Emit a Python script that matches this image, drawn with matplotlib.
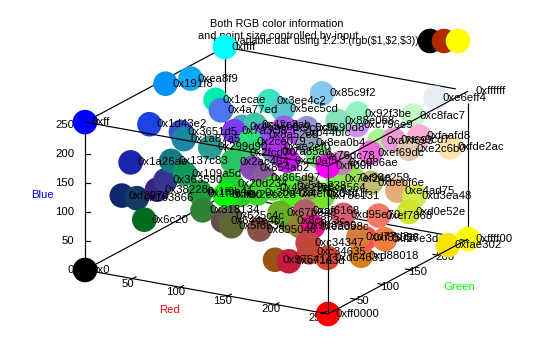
import matplotlib
matplotlib.use("Agg")
import matplotlib.pyplot as plt

plt.rcParams['font.family'] = ['Liberation Sans', 'DejaVu Sans']

# data: every point is its own colour, r,g,b are the bytes of the number
point_hex = [
    0x1a26ae, 0x0f2970, 0x163866, 0x006c20, 0x38228a, 0x363590, 0x137c83, 0x109a5d,
    0x0ea8f9, 0x0191f8, 0x01ecae, 0x4a77ed, 0x1d43e2, 0x3651d5, 0x1a87a5, 0x299d90,
    0x3ee4c2, 0x5ec5cd, 0x85c9f2, 0x46a5b8, 0x42c3ab, 0x7a3cf5, 0x8a52e8, 0x9c5cf5,
    0xb44bfc, 0x9690d8, 0x2ce079, 0x2fcd70, 0x7a85ad, 0x8ea0b4, 0xcf0af5, 0xae2ef0,
    0x2ac464, 0x854ab2, 0x865d97, 0x76dc78, 0x1f9b41, 0x1f9c3e, 0x20d234, 0x2ecc28,
    0x3bd42a, 0x43e22e, 0x54e238, 0x4ef020, 0x64ff1f, 0x78e131, 0x8ca564, 0x7ef248,
    0x96e259, 0x318134, 0x644e4b, 0x625c4c, 0x5f6634, 0x895046, 0x8c823c, 0x67b028,
    0xaf6168, 0xd95e70, 0x968336, 0xea098c, 0xc34347, 0xc34635, 0x975414, 0xc71a3d,
    0xd64631, 0xd88018, 0xf85058, 0xd77d3a, 0xf27e3d, 0xef7868, 0xbebf6e, 0xe4ad75,
    0xd3ea48, 0xd0e52e, 0xfae302, 0xe6eff4, 0xc8fac7, 0xc796e9, 0x92f3be, 0x88e0b8,
    0xa7f693, 0xea9cd7, 0xfaafd8, 0xe2c6b0, 0xfde2ac, 0xef69dc, 0xc086ae,
    0x00ff00, 0x000000, 0x0000ff, 0x00ffff, 0xff00ff, 0xff0000, 0xffff00, 0xffffff,
]
tick_values = [0, 50, 100, 150, 200, 250]
axis_max = 255
key_colors = ['#000000', '#b22a00', '#ffff00']

# where the gnuplot view puts the three axes, in pixels per unit
origin = (85, 270)
red_dir = (0.953, 0.1725)
green_dir = (0.549, -0.294)
blue_dir = (0.0, -0.58)
radius_px = 12.3
fs = 8.2


def project(r, g, b):
    x = origin[0] + r * red_dir[0] + g * green_dir[0] + b * blue_dir[0]
    y = origin[1] + r * red_dir[1] + g * green_dir[1] + b * blue_dir[1]
    return x, y


def edge(a, b, z):
    pa = project(*a)
    pb = project(*b)
    ax.plot([pa[0], pb[0]], [pa[1], pb[1]], color='black', lw=0.85, zorder=z,
            solid_capstyle='butt')


fig = plt.figure(figsize=(5.4, 3.6), dpi=100)
ax = fig.add_axes([0, 0, 1, 1])
ax.set_xlim(0, 540)
ax.set_ylim(360, 0)
ax.axis('off')

M = axis_max
# back edges go under the points
for a, b in [((0, 0, 0), (0, 0, M)), ((0, 0, 0), (0, M, 0)), ((0, M, 0), (0, M, M)),
             ((0, 0, M), (0, M, M)), ((0, M, M), (M, M, M)), ((0, M, 0), (M, M, 0)),
             ((M, M, 0), (M, M, M))]:
    edge(a, b, 1)
# front edges go over them
for a, b in [((0, 0, 0), (M, 0, 0)), ((M, 0, 0), (M, M, 0)), ((M, 0, 0), (M, 0, M)),
             ((0, 0, M), (M, 0, M)), ((M, 0, M), (M, M, M))]:
    edge(a, b, 4)

# ticks
for t in tick_values:
    x, y = project(0, 0, t)
    ax.plot([x, x + 5], [y, y], color='black', lw=0.85, zorder=1)
    ax.text(x - 11, y, str(t), ha='right', va='center', fontsize=fs, zorder=1)
for t in tick_values[1:]:
    x0, y0 = project(t, -3, 0)
    x1, y1 = project(t, 6, 0)
    ax.plot([x0, x1], [y0, y1], color='black', lw=0.85, zorder=4)
    x, y = project(t, 0, 0)
    ax.text(x - 5, y + 5, str(t), ha='center', va='center', fontsize=fs, zorder=1)

    x0, y0 = project(M - 5, t, 0)
    x1, y1 = project(M + 1, t, 0)
    ax.plot([x0, x1], [y0, y1], color='black', lw=0.85, zorder=4)
    x, y = project(M, t, 0)
    ax.text(x + 7, y + 2, str(t), ha='center', va='center', fontsize=fs, zorder=1)

# points
xs, ys, colors = [], [], []
for v in point_hex:
    r, g, b = (v >> 16) & 255, (v >> 8) & 255, v & 255
    px, py = project(r, g, b)
    xs.append(px)
    ys.append(py)
    colors.append((r / 255, g / 255, b / 255))
size = (2 * radius_px * 72 / 100) ** 2
ax.scatter(xs, ys, s=size, c=colors, linewidths=0, zorder=2)

# every point carries its number as a label
for v, px, py in zip(point_hex, xs, ys):
    ax.text(px + 7, py, hex(v), ha='left', va='center', fontsize=fs, zorder=5)

# title and key sit under the points, the cyan one hides part of them
ax.text(277, 24, 'Both RGB color information', ha='center', va='center', fontsize=7.8, zorder=1)
ax.text(278, 36, 'and point size controlled by input', ha='center', va='center', fontsize=7.8, zorder=1)
ax.text(419, 41, "'rgb_variable.dat' using 1:2:3:(rgb($1,$2,$3))", ha='right', va='center',
        fontsize=7.6, zorder=1, parse_math=False)
ax.scatter([430, 444, 458], [41, 41, 41], s=size, c=key_colors, linewidths=0, zorder=2)

ax.text(170, 310, 'Red', color='#ff0000', ha='center', va='center', fontsize=fs)
ax.text(459, 287, 'Green', color='#00ff00', ha='center', va='center', fontsize=fs)
ax.text(42, 195, 'Blue', color='#0000ff', ha='center', va='center', fontsize=fs)

fig.savefig('out.png', dpi=100)
